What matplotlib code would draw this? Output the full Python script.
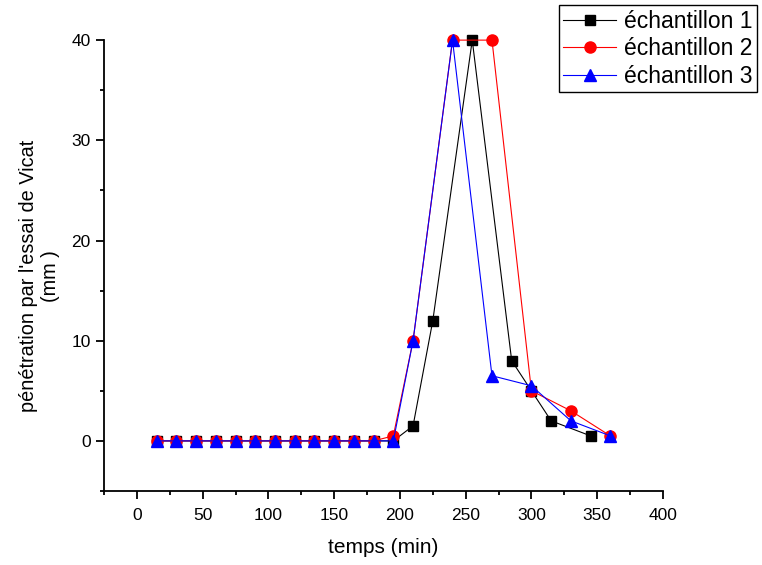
import matplotlib
matplotlib.use("Agg")
import matplotlib.pyplot as plt
from matplotlib.ticker import MultipleLocator

plt.rcParams['font.family'] = ['Liberation Sans', 'DejaVu Sans']

# Vicat penetration (mm) vs time (min) for three samples
t1 = [15, 30, 45, 60, 75, 90, 105, 120, 135, 150, 165, 180, 195, 210, 225, 255, 285, 300, 315, 345]
p1 = [0, 0, 0, 0, 0, 0, 0, 0, 0, 0, 0, 0, 0, 1.5, 12, 40, 8, 5, 2, 0.5]

t2 = [15, 30, 45, 60, 75, 90, 105, 120, 135, 150, 165, 180, 195, 210, 240, 270, 300, 330, 360]
p2 = [0, 0, 0, 0, 0, 0, 0, 0, 0, 0, 0, 0, 0.5, 10, 40, 40, 5, 3, 0.5]

t3 = [15, 30, 45, 60, 75, 90, 105, 120, 135, 150, 165, 180, 195, 210, 240, 270, 300, 330, 360]
p3 = [0, 0, 0, 0, 0, 0, 0, 0, 0, 0, 0, 0, 0, 10, 40, 6.5, 5.5, 2, 0.5]

labels = ["échantillon 1", "échantillon 2", "échantillon 3"]

fig = plt.figure(figsize=(7.62, 5.65), dpi=100)
ax = fig.add_axes([0.1365, 0.131, 0.7335, 0.798])

l1, = ax.plot(t1, p1, color='black', lw=0.8, marker='s', ms=7, label=labels[0], clip_on=False)
l2, = ax.plot(t2, p2, color='red', lw=0.8, marker='o', ms=8, label=labels[1], clip_on=False)
l3, = ax.plot(t3, p3, color='blue', lw=0.8, marker='^', ms=8.5, label=labels[2], clip_on=False)

ax.set_xlim(-25, 400)
ax.set_ylim(-5, 40)
ax.xaxis.set_major_locator(MultipleLocator(50))
ax.xaxis.set_minor_locator(MultipleLocator(25))
ax.yaxis.set_major_locator(MultipleLocator(10))
ax.yaxis.set_minor_locator(MultipleLocator(5))

for s in ('top', 'right'):
    ax.spines[s].set_visible(False)
for s in ('left', 'bottom'):
    ax.spines[s].set_linewidth(1.3)

ax.tick_params(which='major', direction='out', length=6, width=1.3, labelsize=12.5)
ax.tick_params(axis='x', which='major', pad=6)
ax.tick_params(which='minor', direction='out', length=3, width=1.3)

ax.set_xlabel("temps (min)", fontsize=15, labelpad=11)
ax.set_ylabel("pénétration par l'essai de Vicat\n(mm )", fontsize=14.3, labelpad=8,
              linespacing=1.25, y=0.476)

leg = fig.legend(handles=[l1, l2, l3], loc='upper right',
                 bbox_to_anchor=(757 / 762, 1 - 5 / 565),
                 fontsize=16.5, frameon=True, fancybox=False, edgecolor='black',
                 framealpha=1, handlelength=2.3, handletextpad=0.35, borderpad=0.2,
                 labelspacing=0.2, borderaxespad=0)
leg.get_frame().set_linewidth(1.0)

fig.savefig("out.png", dpi=100)
